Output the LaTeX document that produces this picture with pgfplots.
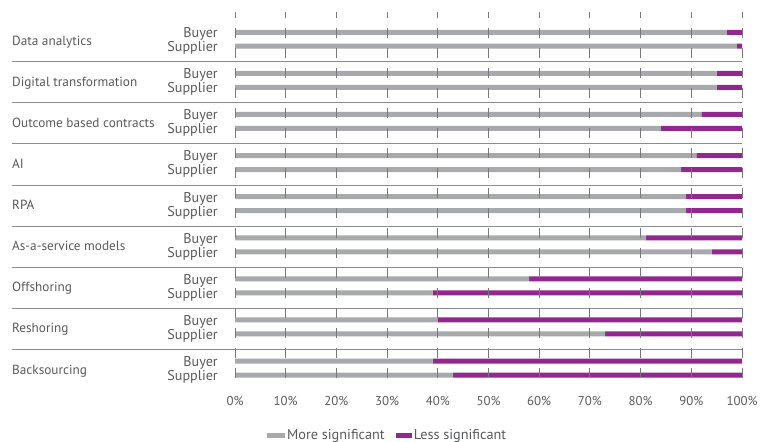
\documentclass[border=0pt]{standalone}
\usepackage{pgfplots}
\pgfplotsset{compat=1.18}
\usepackage{pgfplotstable}
\usepackage{fontspec}
\setmainfont{PT Sans}
\definecolor{moregray}{HTML}{A7A9AC}
\definecolor{lesspurple}{HTML}{92278F}
\definecolor{txtgray}{HTML}{58595B}
\definecolor{gridgray}{HTML}{77787B}
\definecolor{sepgray}{HTML}{8A8C8E}

\pgfplotstableread{
y more less
0.85 97 3
1.87 99 1
3.85 95 5
4.87 95 5
6.85 92 8
7.87 84 16
9.85 91 9
10.87 88 12
12.85 89 11
13.87 89 11
15.85 81 19
16.87 94 6
18.85 58 42
19.87 39 61
21.85 40 60
22.87 73 27
24.85 39 61
25.87 43 57
}\datatable

\begin{document}
\begin{tikzpicture}[font=\fontsize{13.3}{14}\selectfont, every node/.style={text=txtgray}]
\useasboundingbox (0,0) rectangle (764bp,-442bp);
\begin{axis}[
  at={(235bp,-12.4bp)}, anchor=north west,
  scale only axis, width=507bp, height=374.7bp,
  xmin=0, xmax=100, ymin=-0.6, ymax=26.75,
  y dir=reverse,
  enlargelimits=false,
  xbar stacked, bar width=5bp,
  axis line style={draw=none},
  major tick length=0pt,
  xtick={0,10,...,100},
  xticklabel={\pgfmathprintnumber{\tick}\%},
  /pgf/number format/assume math mode=true,
  xticklabel style={font=\fontsize{12.9}{14}\selectfont, text=txtgray, yshift=-5.5bp},
  ytick={0.85,1.87,3.85,4.87,6.85,7.87,9.85,10.87,12.85,13.87,15.85,16.87,18.85,19.87,21.85,22.87,24.85,25.87},
  yticklabels={Buyer,Supplier,Buyer,Supplier,Buyer,Supplier,Buyer,Supplier,Buyer,Supplier,Buyer,Supplier,Buyer,Supplier,Buyer,Supplier,Buyer,Supplier},
  yticklabel style={font=\fontsize{14.2}{14}\selectfont, text=txtgray, inner xsep=0pt, inner ysep=0pt, anchor=base east, xshift=-17bp, yshift=-5.4bp},
  xmajorgrids,
  grid style={gridgray, line width=0.9bp, dash pattern=on 10bp off 10bp, dash phase=4.4bp},
  axis on top,
  clip=false,
  legend style={at={(0.063,-0.128)}, anchor=west, draw=none, fill=none, legend columns=2, inner sep=0pt,
    font=\fontsize{14.3}{14}\selectfont, text=txtgray,
    nodes={inner sep=0pt},
    /tikz/every odd column/.append style={column sep=2bp},
    /tikz/every even column/.append style={column sep=11bp}},
  legend cell align=left,
]
\addplot[fill=moregray, draw=none, legend image code/.code={\fill[moregray] (0bp,-2.5bp) rectangle (18bp,2.5bp);}] table[x=more, y=y] {\datatable};
\addplot[fill=lesspurple, draw=none, legend image code/.code={\fill[lesspurple] (0bp,-2.5bp) rectangle (16bp,2.5bp);}] table[x=less, y=y] {\datatable};
\legend{More significant, Less significant}
\draw[sepgray, line width=1bp] (axis cs:-44,3) -- (axis cs:100,3);
\draw[sepgray, line width=1bp] (axis cs:-44,6) -- (axis cs:100,6);
\draw[sepgray, line width=1bp] (axis cs:-44,9) -- (axis cs:100,9);
\draw[sepgray, line width=1bp] (axis cs:-44,12) -- (axis cs:100,12);
\draw[sepgray, line width=1bp] (axis cs:-44,15) -- (axis cs:100,15);
\draw[sepgray, line width=1bp] (axis cs:-44,18) -- (axis cs:100,18);
\draw[sepgray, line width=1bp] (axis cs:-44,21) -- (axis cs:100,21);
\draw[sepgray, line width=1bp] (axis cs:-44,24) -- (axis cs:100,24);
\node[anchor=base west, inner sep=0pt] at (axis cs:-44,1.8) {Data analytics};
\node[anchor=base west, inner sep=0pt] at (axis cs:-44,4.8) {Digital transformation};
\node[anchor=base west, inner sep=0pt] at (axis cs:-44,7.8) {Outcome based contracts};
\node[anchor=base west, inner sep=0pt] at (axis cs:-44,10.8) {AI};
\node[anchor=base west, inner sep=0pt] at (axis cs:-44,13.8) {RPA};
\node[anchor=base west, inner sep=0pt] at (axis cs:-44,16.8) {As-a-service models};
\node[anchor=base west, inner sep=0pt] at (axis cs:-44,19.8) {Offshoring};
\node[anchor=base west, inner sep=0pt] at (axis cs:-44,22.8) {Reshoring};
\node[anchor=base west, inner sep=0pt] at (axis cs:-44,25.8) {Backsourcing};
\end{axis}
\end{tikzpicture}
\end{document}
